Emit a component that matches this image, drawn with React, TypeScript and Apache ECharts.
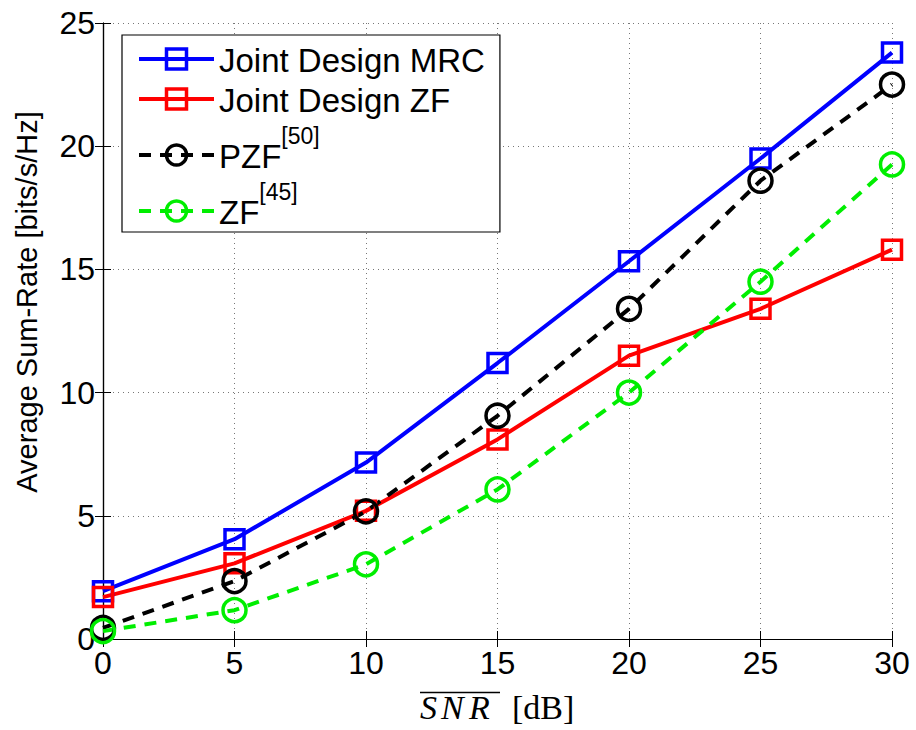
import React, { useEffect, useRef } from "react";
import * as echarts from "echarts";

const snr = [0, 5, 10, 15, 20, 25, 30];
const jointMRC = [1.94, 4.05, 7.16, 11.2, 15.33, 19.5, 23.8];
const jointZF = [1.7, 3.07, 5.2, 8.1, 11.5, 13.4, 15.8];
const pzf = [0.45, 2.35, 5.18, 9.06, 13.4, 18.6, 22.5];
const zf = [0.32, 1.17, 3.03, 6.07, 10.0, 14.5, 19.26];
const seriesNames = ["Joint Design MRC", "Joint Design ZF", "PZF[50]", "ZF[45]"];
const yAxisTitle = "Average Sum-Rate [bits/s/Hz]";

const pairs = (ys: number[]) => snr.map((x, i) => [x, ys[i]]);

export default function App() {
  const ref = useRef<HTMLDivElement>(null);
  useEffect(() => {
    if (!ref.current) return;
    const chart = echarts.init(ref.current, null, { renderer: "svg" });
    const font = "Liberation Sans, Arial, Helvetica, sans-serif";
    const serif = "Liberation Serif, DejaVu Serif, serif";
    const mk = (name: string, data: number[], color: string, symbol: string, size: number, dashed: boolean) => ({
      name,
      type: "line",
      data: pairs(data),
      symbol,
      symbolSize: size,
      showAllSymbol: true,
      lineStyle: { color, width: 4, type: dashed ? [12, 9] : "solid" },
      itemStyle: { color: "rgba(0,0,0,0)", borderColor: color, borderWidth: 3.5 },
      z: 3,
    });
    const axisLine = { show: true, lineStyle: { color: "#000", width: 1.2 } };
    const tick = { show: true, inside: true, length: 8, lineStyle: { color: "#000" } };
    const split = { show: true, lineStyle: { color: "#777", width: 1, type: [1, 4] } };
    const xName = (text: string, x: number, italic: boolean) => ({
      type: "text",
      x,
      y: 707,
      style: {
        text,
        fill: "#000",
        font: `${italic ? "italic " : ""}34px ${serif}`,
        verticalAlign: "middle",
        align: "left",
      },
    });
    chart.setOption({
      animation: false,
      backgroundColor: "#fff",
      textStyle: { fontFamily: font },
      grid: { left: 103, right: 24, top: 23, bottom: 91, show: false },
      legend: {
        orient: "vertical",
        left: 122,
        top: 35,
        padding: [9, 15, 3, 15],
        itemGap: 7,
        itemWidth: 75,
        itemHeight: 25,
        backgroundColor: "#fff",
        borderColor: "#000",
        borderWidth: 1.2,
        lineStyle: { width: 4 },
        itemStyle: { borderWidth: 3.5 },
        data: seriesNames,
        formatter: (name: string) => {
          const m = name.match(/^(.*)(\[\d+\])$/);
          if (m) return `{a|${m[1]}}{s|${m[2]}}`;
          return `{a|${name}}`;
        },
        textStyle: {
          color: "#000",
          fontFamily: font,
          fontSize: 33,
          rich: {
            a: { fontSize: 33, lineHeight: 36, fontFamily: font, color: "#000", verticalAlign: "bottom" },
            s: { fontSize: 23, lineHeight: 24, fontFamily: font, color: "#000", verticalAlign: "bottom", padding: [0, 0, 26, 0] },
          },
        },
      },
      xAxis: [
        {
          type: "value",
          min: 0,
          max: 30,
          interval: 5,
          position: "bottom",
          axisLine,
          axisTick: tick,
          axisLabel: { color: "#000", fontSize: 32, fontFamily: font, margin: 8 },
          splitLine: split,
        },
        {
          type: "value",
          min: 0,
          max: 30,
          interval: 5,
          position: "top",
          axisLine,
          axisTick: tick,
          axisLabel: { show: false },
          splitLine: { show: false },
        },
      ],
      yAxis: [
        {
          type: "value",
          min: 0,
          max: 25,
          interval: 5,
          position: "left",
          axisLine,
          axisTick: tick,
          axisLabel: { color: "#000", fontSize: 32, fontFamily: font, margin: 8 },
          splitLine: split,
          name: yAxisTitle,
          nameLocation: "middle",
          nameGap: 62,
          nameTextStyle: { color: "#000", fontSize: 29, fontFamily: font, padding: [0, 0, 0, 58] },
        },
        {
          type: "value",
          min: 0,
          max: 25,
          interval: 5,
          position: "right",
          axisLine,
          axisTick: tick,
          axisLabel: { show: false },
          splitLine: { show: false },
        },
      ],
      graphic: [
        xName("S", 420, true),
        xName("N", 441, true),
        xName("R", 469, true),
        xName("[dB]", 512, false),
        {
          type: "line",
          shape: { x1: 420, y1: 692.5, x2: 500, y2: 692.5 },
          style: { stroke: "#000", lineWidth: 1.7 },
        },
      ],
      series: [
        mk(seriesNames[0], jointMRC, "#0000ff", "rect", 19, false),
        mk(seriesNames[1], jointZF, "#ff0000", "rect", 19, false),
        mk(seriesNames[2], pzf, "#000000", "circle", 23, true),
        mk(seriesNames[3], zf, "#00ee00", "circle", 23, true),
      ],
    });
    return () => chart.dispose();
  }, []);
  return <div ref={ref} style={{ position: "fixed", left: 0, top: 0, width: 916, height: 730 }} />;
}
